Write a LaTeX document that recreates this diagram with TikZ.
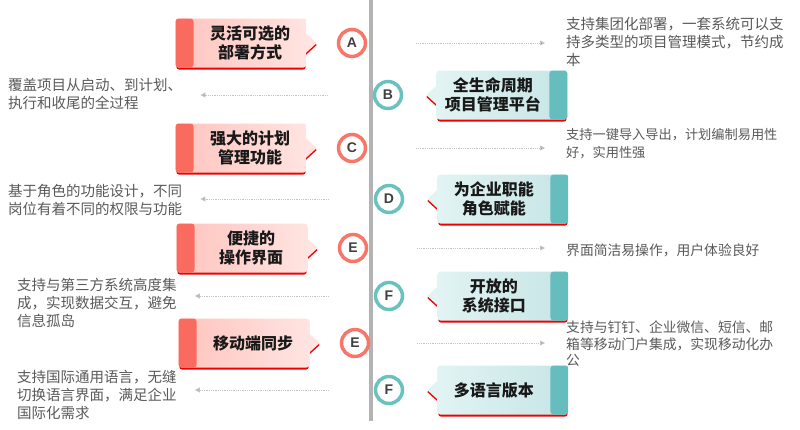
\documentclass[tikz,border=0pt]{standalone}
\usepackage{fontspec}
\setmainfont{Liberation Sans}
\newfontfamily\cjk{Noto Sans CJK SC}
\usetikzlibrary{positioning, arrows.meta, backgrounds}
\definecolor{cBar}{HTML}{F96B5E}
\definecolor{cRing}{HTML}{F7766A}
\definecolor{cPinkD}{HTML}{FFC4BE}
\definecolor{cPinkL}{HTML}{FFE4E1}
\definecolor{cTeal}{HTML}{66BDBD}
\definecolor{cTealRing}{HTML}{6AC2BE}
\definecolor{cTealL}{HTML}{E2F3F3}
\definecolor{cTealD}{HTML}{C6E5E5}
\definecolor{cShadow}{HTML}{F00000}
\definecolor{cSpine}{HTML}{B3B3B3}
\definecolor{cLink}{HTML}{C4C4C4}
\definecolor{cLinkTip}{HTML}{B0B0B0}
\definecolor{cNote}{HTML}{595959}
\definecolor{cLetter}{HTML}{404040}
\tikzset{
  lcard/.style  ={rounded corners=3pt, minimum width=131pt, minimum height=49pt, inner sep=0pt,
                  left color=cPinkD, right color=cPinkL,
                  path picture={\fill[cBar] (path picture bounding box.north west)
                     rectangle ([xshift=18pt]path picture bounding box.south west);}},
  rcard/.style  ={rounded corners=3pt, minimum width=131pt, minimum height=49pt, inner sep=0pt,
                  left color=cTealL, right color=cTealD,
                  path picture={\fill[cTeal] ([xshift=-18pt]path picture bounding box.north east)
                     rectangle (path picture bounding box.south east);}},
  ltitle/.style ={font=\cjk\bfseries\fontsize{16}{19}\selectfont, align=center, text=black!90, xshift=9pt},
  rtitle/.style ={font=\cjk\bfseries\fontsize{16}{19}\selectfont, align=center, text=black!90, xshift=-9pt},
  lmark/.style  ={circle, draw=cRing, line width=3.5pt, fill=white, minimum size=27pt, inner sep=0pt,
                  font=\bfseries\fontsize{14}{14}\selectfont, text=cLetter},
  rmark/.style  ={lmark, draw=cTealRing},
  note/.style   ={font=\cjk\fontsize{14.5}{18}\selectfont, text=cNote, align=left, inner sep=0pt},
  link/.style   ={densely dotted, line width=0.8pt, draw=cLink,
                  -{Triangle[length=5pt, width=5pt, fill=cLinkTip]}},
  spine/.style  ={line width=4pt, draw=cSpine}
}

\begin{document}
\begin{tikzpicture}[x=1pt, y=-1pt]
  \useasboundingbox (0,0) rectangle (800,429);

  % ---------------- spine ----------------
  \coordinate (sTop) at (370.5,0);
  \coordinate (sBot) at (370.5,421);
  \draw[spine] (sTop) -- (sBot);

  % ---------------- markers ----------------
  \node[lmark] (cA) at (352,43)  {A};
  \node[rmark] (cB) at (388,95)  {B};
  \node[lmark] (cC) at (352,148) {C};
  \node[rmark] (cD) at (389,199) {D};
  \node[lmark] (cE) at (353,248) {E};
  \node[rmark] (cF) at (389,296) {F};
  \node[lmark] (cG) at (355,343) {E};
  \node[rmark] (cH) at (389,390) {F};

  % ---------------- cards ----------------
  \node[lcard, left=30pt of cA,  label={[ltitle]center:灵活可选的\\部署方式}] (bA) {};
  \node[rcard, right=33pt of cB, label={[rtitle]center:全生命周期\\项目管理平台}] (bB) {};
  \node[lcard, left=30pt of cC,  label={[ltitle]center:强大的计划\\管理功能}] (bC) {};
  \node[rcard, right=33pt of cD, label={[rtitle]center:为企业职能\\角色赋能}] (bD) {};
  \node[lcard, left=30pt of cE,  label={[ltitle]center:便捷的\\操作界面}] (bE) {};
  \node[rcard, right=33pt of cF, label={[rtitle]center:开放的\\系统接口}] (bF) {};
  \node[lcard, left=30pt of cG,  label={[ltitle]center:移动端同步}] (bG) {};
  \node[rcard, right=33pt of cH, label={[rtitle]center:多语言版本}] (bH) {};

  % pointers and red under-edge
  \begin{scope}[on background layer]
    \foreach \b in {bA,bC,bE,bG} {
      \fill[cShadow, rounded corners=3pt] ([xshift=1pt,yshift=-2pt]\b.south west) rectangle ([xshift=-1pt,yshift=-2pt]\b.north east);
      \fill[cShadow] ([xshift=-1pt,yshift=8pt]\b.east) -- ++(11pt,-10pt) -- ++(-11pt,-10pt) -- cycle;
    }
    \foreach \b in {bB,bD,bF,bH} {
      \fill[cShadow, rounded corners=3pt] ([xshift=1pt,yshift=-2pt]\b.south west) rectangle ([xshift=-1pt,yshift=-2pt]\b.north east);
      \fill[cShadow] ([xshift=1pt,yshift=8pt]\b.west) -- ++(-11pt,-10pt) -- ++(11pt,-10pt) -- cycle;
    }
  \end{scope}
  \foreach \b in {bA,bC,bE,bG}
    \fill[cPinkL] ([xshift=-1pt,yshift=10pt]\b.east) -- ++(11pt,-10pt) -- ++(-11pt,-10pt) -- cycle;
  \foreach \b in {bB,bD,bF,bH}
    \fill[cTealL] ([xshift=1pt,yshift=10pt]\b.west) -- ++(-11pt,-10pt) -- ++(11pt,-10pt) -- cycle;

  % ---------------- notes ----------------
  \node[note, anchor=west] (tA) at (566,42)
    {支持集团化部署，一套系统可以支\\持多类型的项目管理模式，节约成\\本};
  \node[note, anchor=west] (tB) at (8,94)
    {覆盖项目从启动、到计划、\\执行和收尾的全过程};
  \node[note, anchor=west, font=\cjk\fontsize{13.2}{18}\selectfont] (tC) at (566,144)
    {支持一键导入导出，计划编制易用性\\好，实用性强};
  \node[note, anchor=west] (tD) at (8,200)
    {基于角色的功能设计，不同\\岗位有着不同的权限与功能};
  \node[note, anchor=west, font=\cjk\fontsize{13.8}{18}\selectfont] (tE) at (566,250)
    {界面简洁易操作，用户体验良好};
  \node[note, anchor=west] (tF) at (17,303)
    {支持与第三方系统高度集\\成，实现数据交互，避免\\信息孤岛};
  \node[note, anchor=west, font=\cjk\fontsize{13.8}{16.5}\selectfont] (tG) at (566,344)
    {支持与钉钉、企业微信、短信、邮\\箱等移动门户集成，实现移动化办\\公};
  \node[note, anchor=west] (tH) at (17,395)
    {支持国际通用语言，无缝\\切换语言界面，满足企业\\国际化需求};

  % ---------------- links ----------------
  \draw[link, shorten <=49pt, shorten >=21pt] (cA) -- (cA -| tA.west);
  \draw[link, shorten <=45pt, shorten >=18pt] (cB) -- (cB -| tB.east);
  \draw[link, shorten <=49pt, shorten >=21pt] (cC) -- (cC -| tC.west);
  \draw[link, shorten <=45pt, shorten >=18pt] (cD) -- (cD -| tD.east);
  \draw[link, shorten <=49pt, shorten >=21pt] (cE) -- (cE -| tE.west);
  \draw[link, shorten <=45pt, shorten >=18pt] (cF) -- (cF -| tF.east);
  \draw[link, shorten <=47pt, shorten >=21pt] (cG) -- (cG -| tG.west);
  \draw[link, shorten <=45pt, shorten >=18pt] (cH) -- (cH -| tH.east);
\end{tikzpicture}
\end{document}
